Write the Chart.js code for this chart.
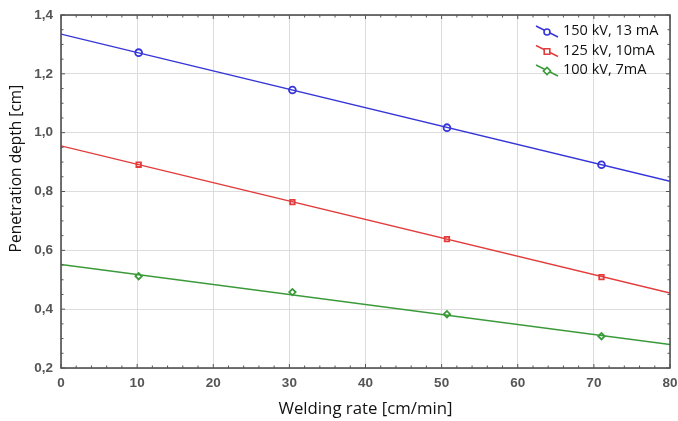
<!DOCTYPE html>
<html><head><meta charset="utf-8">
<script src="https://cdn.jsdelivr.net/npm/chart.js@4"></script>
<style>html,body{margin:0;padding:0;background:#fff}#wrap{width:678px;height:421px}</style>
</head><body><div id="wrap"><canvas id="c" width="678" height="421"></canvas></div>
<script>
const seriesLabels = ['150 kV, 13 mA', '125 kV, 10mA', '100 kV, 7mA'];
const xTitle = 'Welding rate [cm/min]';
const yTitle = 'Penetration depth [cm]';
const weldingRate = [10.2, 30.4, 50.7, 71.0];
const depth150 = [1.272, 1.145, 1.017, 0.891];
const depth125 = [0.891, 0.764, 0.638, 0.509];
const depth100 = [0.512, 0.458, 0.383, 0.308];
const fitX = [0, 80];
const fit150 = [1.335, 0.835];
const fit125 = [0.955, 0.455];
const fit100 = [0.552, 0.280];
const xTicks = [0, 10, 20, 30, 40, 50, 60, 70, 80];
const yTicks = [0.2, 0.4, 0.6, 0.8, 1.0, 1.2, 1.4];

const colors = ['#3535d8', '#e23c3c', '#3a9a3a'];
const pstyles = ['circle', 'rect', 'rectRot'];

const pts = (xs, ys) => xs.map((x, i) => ({x, y: ys[i]}));
const pointSets = [depth150, depth125, depth100];
const fitSets = [fit150, fit125, fit100];
const datasets = [];
for (let i = 0; i < 3; i++) {
  datasets.push({label: seriesLabels[i], data: pts(fitX, fitSets[i]), borderColor: colors[i], borderWidth: 1.4, pointRadius: 0, showLine: true, fill: false});
  datasets.push({label: seriesLabels[i] + ' pts', data: pts(weldingRate, pointSets[i]), borderColor: colors[i], backgroundColor: 'rgba(255,255,255,1)', borderWidth: 1.8, pointRadius: i === 0 ? 3.4 : 3.2, pointStyle: pstyles[i], showLine: false});
}

const framePlugin = {
  id: 'frame',
  afterDraw(chart) {
    const {ctx, chartArea: a, scales} = chart;
    ctx.save();
    ctx.strokeStyle = '#444';
    ctx.lineWidth = 1.5;
    ctx.strokeRect(a.left, a.top, a.right - a.left, a.bottom - a.top);
    ctx.lineWidth = 1;
    ctx.strokeStyle = '#555';
    for (let v = 0; v <= 80; v += 2) {
      const px = scales.x.getPixelForValue(v);
      const len = v % 10 === 0 ? 4 : 2.5;
      ctx.beginPath(); ctx.moveTo(px, a.bottom); ctx.lineTo(px, a.bottom - len); ctx.stroke();
      ctx.beginPath(); ctx.moveTo(px, a.top); ctx.lineTo(px, a.top + len); ctx.stroke();
    }
    for (let k = 0; k <= 24; k++) {
      const v = 0.2 + k * 0.05;
      const py = scales.y.getPixelForValue(v);
      const len = k % 4 === 0 ? 4 : 2.5;
      ctx.beginPath(); ctx.moveTo(a.left, py); ctx.lineTo(a.left + len, py); ctx.stroke();
      ctx.beginPath(); ctx.moveTo(a.right, py); ctx.lineTo(a.right - len, py); ctx.stroke();
    }
    // y-axis title (slightly above centre, as in the reference)
    ctx.save();
    ctx.font = '15.5px "Open Sans", "Noto Sans", sans-serif';
    ctx.fillStyle = '#111';
    ctx.textAlign = 'center';
    ctx.textBaseline = 'middle';
    ctx.translate(17, scales.y.getPixelForValue(0.878));
    ctx.rotate(-Math.PI / 2);
    ctx.fillText(yTitle, 0, 0);
    ctx.restore();
    // legend
    ctx.font = '14.5px "Open Sans", "Noto Sans", sans-serif';
    ctx.textBaseline = 'middle';
    for (let i = 0; i < 3; i++) {
      const y = a.top + 17 + i * 19.5;
      const x0 = a.right - 134;
      ctx.strokeStyle = colors[i];
      ctx.lineWidth = 1.4;
      ctx.beginPath(); ctx.moveTo(x0, y - 6); ctx.lineTo(x0 + 22, y + 5); ctx.stroke();
      const cx = x0 + 11, cy = y;
      ctx.fillStyle = '#fff';
      ctx.lineWidth = 1.6;
      ctx.beginPath();
      if (i === 0) ctx.arc(cx, cy, 3, 0, Math.PI * 2);
      else if (i === 1) ctx.rect(cx - 2.8, cy - 2.8, 5.6, 5.6);
      else { ctx.moveTo(cx, cy - 3.6); ctx.lineTo(cx + 3.6, cy); ctx.lineTo(cx, cy + 3.6); ctx.lineTo(cx - 3.6, cy); ctx.closePath(); }
      ctx.fill(); ctx.stroke();
      ctx.fillStyle = '#111';
      ctx.fillText(seriesLabels[i], x0 + 27, y - 1);
    }
    ctx.restore();
  }
};

const tickFont = {family: '"Liberation Sans", Arial, sans-serif', size: 13.5, weight: 'bold'};

new Chart(document.getElementById('c'), {
  type: 'scatter',
  data: {datasets},
  options: {
    responsive: false,
    animation: false,
    layout: {padding: {top: 15, right: 8, left: 0, bottom: 0}},
    plugins: {legend: {display: false}, tooltip: {enabled: false}},
    scales: {
      x: {
        type: 'linear', min: 0, max: 80,
        afterBuildTicks: s => { s.ticks = xTicks.map(v => ({value: v})); },
        afterFit: s => { s.height = 53; s.paddingLeft = 0; s.paddingRight = 0; },
        ticks: {color: '#555', font: tickFont, padding: 7},
        grid: {color: '#dcdcdc', lineWidth: 1, drawTicks: false},
        border: {display: false},
        title: {display: true, text: xTitle, color: '#111', font: {family: '"Open Sans", "Noto Sans", sans-serif', size: 16.8}, padding: {top: 2, bottom: 1.5}}
      },
      y: {
        type: 'linear', min: 0.2, max: 1.4,
        afterBuildTicks: s => { s.ticks = yTicks.map(v => ({value: v})); },
        afterFit: s => { s.width = 61; s.paddingTop = 0; s.paddingBottom = 0; },
        ticks: {color: '#555', font: tickFont, padding: 8,
          callback: v => v.toFixed(1).replace('.', ',')},
        grid: {color: '#dcdcdc', lineWidth: 1, drawTicks: false},
        border: {display: false},
        title: {display: false}
      }
    }
  },
  plugins: [framePlugin]
});
</script></body></html>
